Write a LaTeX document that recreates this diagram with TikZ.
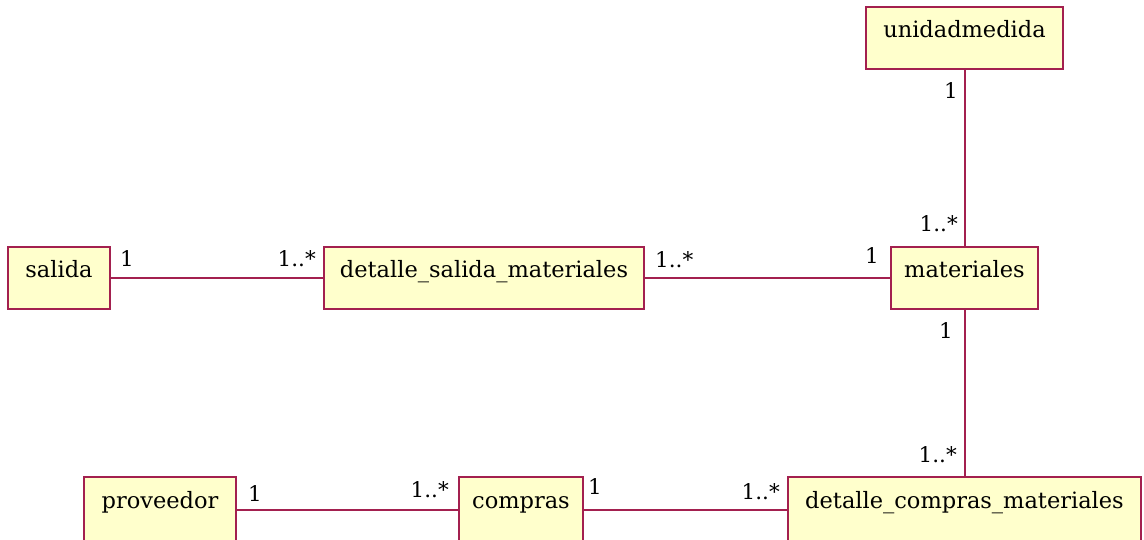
\documentclass[tikz,border=0pt]{standalone}
\usepackage{fontspec}
\setmainfont{DejaVu Serif}
\definecolor{umlborder}{HTML}{A3204F}
\definecolor{umlfill}{HTML}{FFFFCC}
\tikzset{
  cls/.style={draw=umlborder, fill=umlfill, line width=2pt, anchor=north west,
    inner xsep=0pt, inner ysep=0pt, text height=31pt, text depth=31pt,
    font=\fontsize{22.5}{26}\selectfont, text=black},
  clsb/.style={cls, text height=31pt, text depth=35pt},
  assoc/.style={draw=umlborder, line width=2pt},
  mult/.style={inner sep=0pt, font=\fontsize{21.5}{24}\selectfont, text=black}
}
\begin{document}
\begin{tikzpicture}[x=1pt,y=-1pt]
\useasboundingbox (0,0) rectangle (1144,540);
% classes
\node[cls, minimum width=197pt] (um) at (865,6) {unidadmedida};
\node[cls, minimum width=102pt] (sal) at (7,246) {salida};
\node[cls, minimum width=320pt] (dsm) at (323,246) {detalle\_salida\_materiales};
\node[cls, minimum width=147pt] (mat) at (890,246) {materiales};
\node[clsb, minimum width=152pt] (prov) at (83,476) {proveedor};
\node[clsb, minimum width=124pt] (comp) at (458,476) {compras};
\node[clsb, minimum width=353pt] (dcm) at (787,476) {detalle\_compras\_materiales};
% associations
\draw[assoc] (sal) -- (dsm);
\draw[assoc] (dsm) -- (mat);
\draw[assoc] (um) -- (mat);
\draw[assoc] (mat) -- (dcm);
\draw[assoc] (prov) -- (comp);
\draw[assoc] (comp) -- (dcm);
% multiplicities
\node[mult, anchor=base west] (m1) at (120,267) {1};
\node[mult, anchor=base east] (m2) at (316,267) {1..*};
\node[mult, anchor=base west] (m3) at (655,268) {1..*};
\node[mult, anchor=base east] (m4) at (879,264) {1};
\node[mult, anchor=base east] (m5) at (958,99) {1};
\node[mult, anchor=base east] (m6) at (958,232) {1..*};
\node[mult, anchor=base east] (m7) at (953,338) {1};
\node[mult, anchor=base east] (m8) at (957,462) {1..*};
\node[mult, anchor=base west] (m9) at (248,501) {1};
\node[mult, anchor=base east] (m10) at (449,497) {1..*};
\node[mult, anchor=base west] (m11) at (588,494) {1};
\node[mult, anchor=base east] (m12) at (780,499) {1..*};
\end{tikzpicture}
\end{document}
